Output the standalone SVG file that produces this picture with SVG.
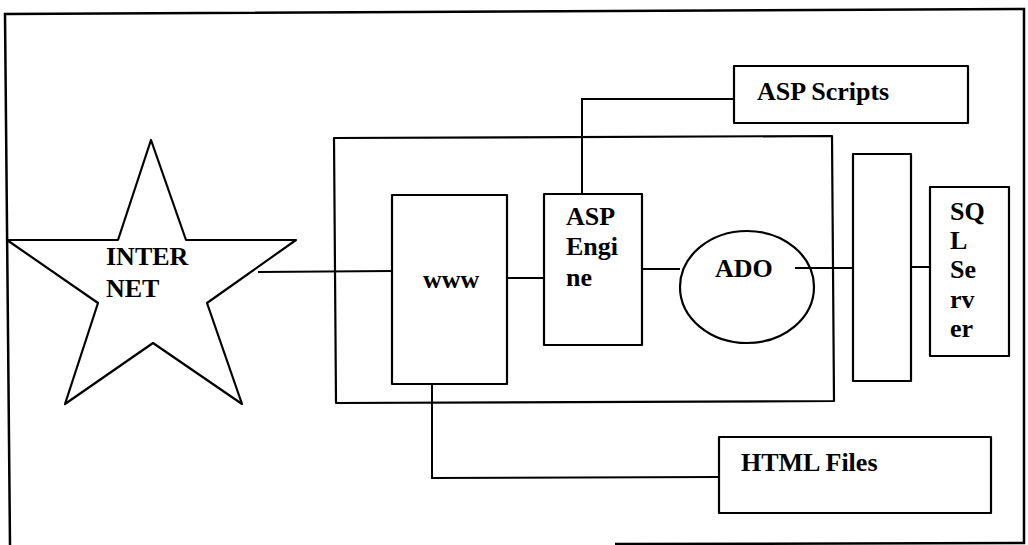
<svg xmlns="http://www.w3.org/2000/svg" width="1028" height="545" viewBox="0 0 1028 545">
<style>
.b{fill:#fff;stroke:#000;stroke-width:2.2;stroke-linejoin:round}
.c{fill:none;stroke:#000;stroke-width:2}
.t{font-family:"Liberation Serif","Times New Roman",serif;font-weight:bold;font-size:26px;fill:#000}
</style>
<rect width="1028" height="545" fill="#fff"/>
<g id="frame"><path d="M10,545 L5,14 L1024,9 L1024,543 L615,544" fill="none" stroke="#000" stroke-width="2.5"/></g>
<g id="server-box"><path class="b" d="M334,138 L832,136 L834,401 L336,403 Z"/></g>
<g id="internet">
<polygon class="b" points="151,140 186,240 296,240 207,303 242,404 153,343 65,404 98,303 7,240 118,240"/>
<text class="t" x="106" y="265">INTER</text>
<text class="t" x="106" y="297">NET</text>
</g>
<g id="www">
<rect class="b" x="392" y="195" width="115" height="189"/>
<text class="t" x="423" y="288">www</text>
</g>
<g id="asp-engine">
<rect class="b" x="544" y="194" width="98" height="151"/>
<text class="t" x="566" y="225">ASP</text>
<text class="t" x="566" y="255">Engi</text>
<text class="t" x="566" y="286">ne</text>
</g>
<g id="ado">
<ellipse class="b" cx="747" cy="287" rx="67" ry="56"/>
<text class="t" x="715" y="277">ADO</text>
</g>
<g id="bar">
<rect class="b" x="853" y="154" width="58" height="227"/>
</g>
<g id="sql-server">
<rect class="b" x="930" y="187" width="79" height="169"/>
<text class="t" x="950" y="220">SQ</text>
<text class="t" x="950" y="249">L</text>
<text class="t" x="950" y="278">Se</text>
<text class="t" x="950" y="308">rv</text>
<text class="t" x="950" y="337">er</text>
</g>
<g id="asp-scripts">
<rect class="b" x="734" y="66" width="234" height="57"/>
<text class="t" x="757" y="100">ASP Scripts</text>
</g>
<g id="html-files">
<rect class="b" x="719" y="437" width="272" height="76"/>
<text class="t" x="741" y="471">HTML Files</text>
</g>
<g id="connectors">
<path class="c" d="M258,272 L392,271"/>
<path class="c" d="M507,278 L544,278"/>
<path class="c" d="M642,269 L680,269"/>
<path class="c" d="M795,268 L853,268"/>
<path class="c" d="M911,267 L930,267"/>
<path class="c" d="M582,194 L582,99 L734,99"/>
<path class="c" d="M432,384 L432,478 L719,477"/>
</g>
</svg>
